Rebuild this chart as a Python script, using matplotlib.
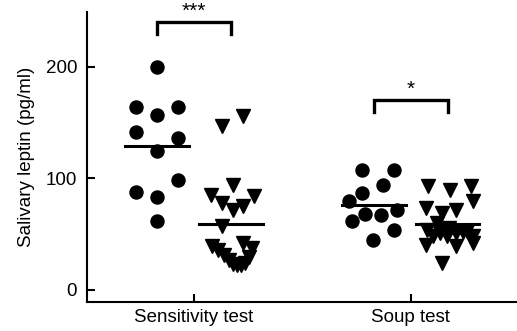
import matplotlib
matplotlib.use("Agg")
import matplotlib.pyplot as plt
import numpy as np

plt.rcParams['font.family'] = ['Liberation Sans', 'DejaVu Sans']

categories = ["Sensitivity test", "Soup test"]
y_ticks = [0, 100, 200]
y_label = "Salivary leptin (pg/ml)"

# Sensitivity test
sens_circles = [200, 163.5, 157, 163.5, 141.4, 136, 124, 98, 88, 83, 62]
sens_circles_jit = [0, -0.097, 0, 0.097, -0.097, 0.097, 0, 0.097, -0.097, 0, 0]
sens_tri = [156, 147, 93.5, 85, 83.7, 77.7, 75, 71.7, 56.8, 39, 36, 31, 27, 23, 22, 22,
            24, 29, 42, 37]
sens_tri_jit = [0.055, -0.041, 0.009, -0.092, 0.106, -0.041, 0.055, 0.009, -0.041, -0.088,
                -0.06, -0.032, -0.009, 0.009, 0.028, 0.046, 0.065, 0.083, 0.055, 0.097]

# Soup test
soup_circles = [107, 107, 93.6, 86.7, 79.2, 71.7, 68, 66.7, 61.3, 53.2, 44.2]
soup_circles_jit = [-0.055, 0.092, 0.041, -0.055, -0.115, 0.106, -0.041, 0.032, -0.101,
                    0.092, -0.005]
soup_tri = [92.7, 89.7, 92.7, 79.2, 73.2, 68.8, 71.7, 59.8, 53.8, 50.8, 47.8, 50.8, 52.3,
            47.8, 40.4, 38.9, 41.9, 24, 55, 52, 48]
soup_tri_jit = [-0.092, 0.009, 0.106, 0.115, -0.101, -0.028, 0.041, -0.051, -0.097, -0.037,
                -0.005, 0.041, 0.088, 0.115, -0.101, 0.041, 0.115, -0.028, 0.005, 0.069,
                -0.065]

sig_labels = ["***", "*"]
sig_heights = [240.5, 170]

fig = plt.figure(figsize=(5.17, 3.31), dpi=100)
ax = fig.add_axes([0.168, 0.0876, 0.832, 0.876])

off = 0.17
groups = [
    (0, sens_circles, sens_circles_jit, sens_tri, sens_tri_jit),
    (1, soup_circles, soup_circles_jit, soup_tri, soup_tri_jit),
]
for cat, circ, cj, tri, tj in groups:
    xc = cat - off + np.array(cj)
    xt = cat + off + np.array(tj)
    ax.plot(xc, circ, 'o', color='black', markersize=9.4, linestyle='none', zorder=3)
    ax.plot(xt, tri, 'v', color='black', markersize=10.5, linestyle='none', zorder=3)
    hw = 0.147
    ax.plot([cat - off - hw, cat - off + hw], [np.mean(circ)] * 2, color='black', lw=2.2, zorder=4)
    ax.plot([cat + off - hw, cat + off + hw], [np.mean(tri)] * 2, color='black', lw=2.2, zorder=4)

# significance brackets
for cat, lab, h in zip([0, 1], sig_labels, sig_heights):
    x0, x1 = cat - off, cat + off
    ax.plot([x0, x0, x1, x1], [h - 11, h, h, h - 11], color='black', lw=2.4,
            solid_joinstyle='miter', clip_on=False, zorder=4)
    ax.text(cat, h + 1, lab, ha='center', va='bottom', fontsize=15, clip_on=False)

ax.set_xlim(-0.493, 1.49)
ax.set_ylim(-11, 249)
ax.set_xticks([0, 1])
ax.set_xticklabels(categories, fontsize=13.5)
ax.set_yticks(y_ticks)
ax.set_yticklabels([str(t) for t in y_ticks], fontsize=13.5)
ax.set_ylabel(y_label, fontsize=13.5, labelpad=8)
ax.tick_params(direction='in', length=6, width=1.5)
ax.tick_params(axis='y', pad=7)
ax.tick_params(axis='x', pad=5)
for s in ['top', 'right']:
    ax.spines[s].set_visible(False)
for s in ['left', 'bottom']:
    ax.spines[s].set_linewidth(1.5)

fig.savefig("out.png", dpi=100)
